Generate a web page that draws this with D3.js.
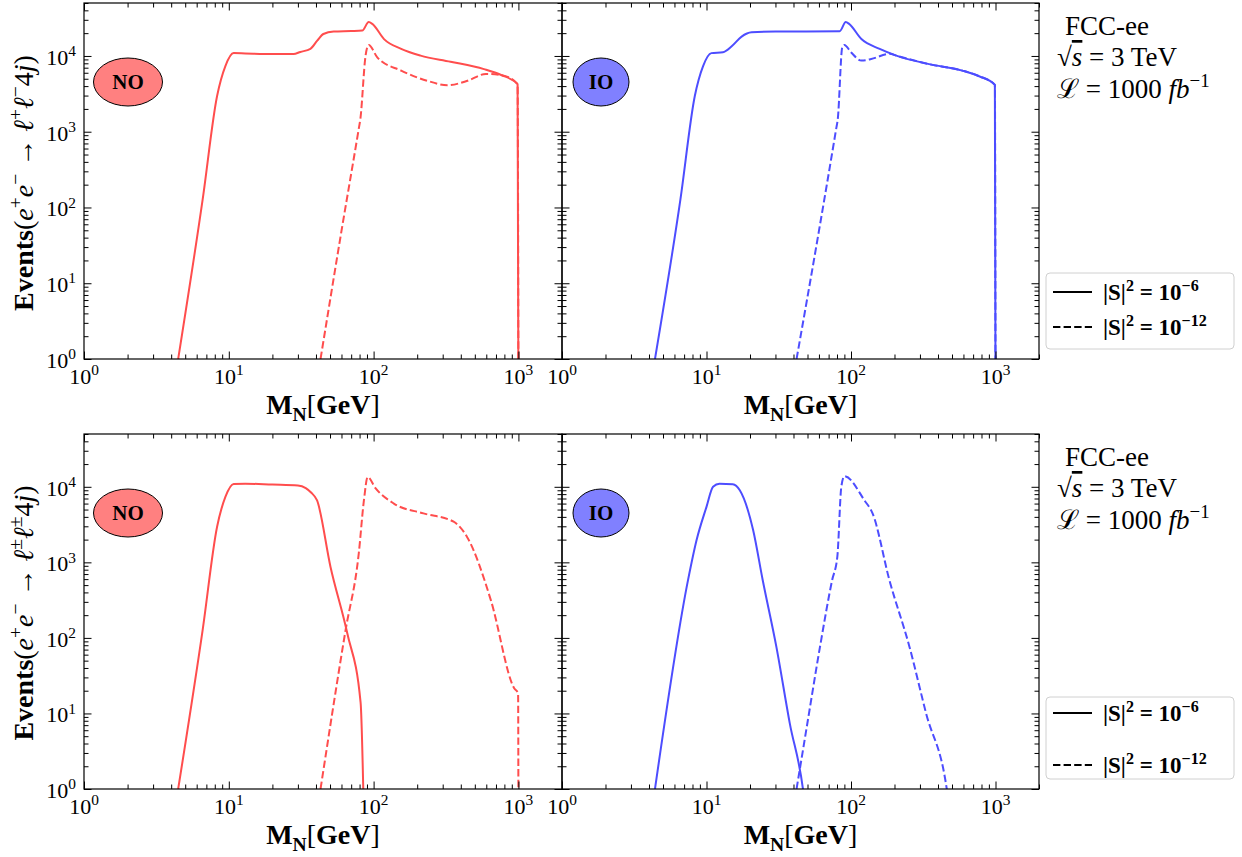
<!DOCTYPE html>
<html>
<head>
<meta charset="utf-8">
<script src="https://cdn.jsdelivr.net/npm/d3@7"></script>
<style>
  body { margin: 0; background: #fff; }
  text { font-family: "Liberation Serif", "DejaVu Serif", serif; fill: #000; }
</style>
</head>
<body>
<svg id="fig" width="1242" height="857"></svg>
<script>
// axis ranges and tick labels
var xDomain = [1, 2000],
    yDomain = [1, 5e4];
var xMajor = [1, 10, 100, 1000],
    xExp = ["0", "1", "2", "3"];
var yMajor = [1, 10, 100, 1000, 10000],
    yExp = ["0", "1", "2", "3", "4"];

// events vs M_N [GeV]
// top row: e+e- -> l+l- 4j
var noOsS6 = [[4.47, 1], [6.6, 128], [8.3, 2960], [9.47, 7350], [10.8, 10900], [13, 10800], [20, 10600],
    [28, 10600], [31.2, 11300], [36.6, 12400], [40.8, 15900], [45, 19500], [53, 21000], [70, 21300],
    [83.5, 21600], [92.5, 28000], [98, 26500], [118, 16700], [155, 12400], [211, 10100], [340, 8400],
    [578, 6700], [760, 5600], [987, 4250], [1001, 0.2]];
var noOsS12 = [[43, 1], [60, 49], [79, 1100], [81, 1470], [88, 10100], [92.5, 14000], [106, 9600], [155, 6400],
    [235, 4700], [323, 4100], [445, 4700], [596, 5800], [760, 5600], [987, 4250], [1001, 0.2]];
var ioOsS6 = [[4.4, 1], [6.6, 128], [8.3, 2960], [9.47, 7350], [10.8, 10900], [13, 11200], [15, 13500],
    [17.5, 18000], [20.5, 20500], [30, 21000], [83.5, 21200], [92, 28000], [97, 26500], [118, 16700],
    [158, 12400], [206, 10100], [347, 7800], [590, 6400], [770, 5400], [990, 4150], [1001, 0.2]];
var ioOsS12 = [[42, 1], [60, 49], [79, 1100], [81, 1470], [87, 13000], [90, 14000], [100, 11200], [118, 8700],
    [138, 9100], [185, 10700], [206, 10100], [347, 7800], [590, 6400], [770, 5400], [990, 4150], [1001, 0.2]];
// bottom row: e+e- -> l(+-)l(+-) 4j
var noSsS6 = [[4.47, 1], [6.6, 128], [8.3, 2960], [9.47, 7350], [10.8, 10900], [13, 11000], [20, 10700],
    [30, 10400], [34, 9600], [37, 8400], [40.7, 6600], [50.4, 870], [65.8, 115], [81.3, 14], [86, 0.3]];
var noSsS12 = [[43, 1], [64, 126], [79, 1320], [85.7, 6600], [91, 13500], [103, 9600], [138, 6000],
    [221, 4450], [357, 3450], [442, 2170], [645, 316], [935, 21.6], [995, 18.5], [1001, 0.2]];
var ioSsS6 = [[4.4, 1], [7.46, 590], [8.53, 1960], [10, 5430], [11.1, 10000], [12.3, 11000], [15.2, 10800],
    [17, 9000], [21, 2700], [24.5, 580], [30.5, 75], [37.7, 7.4], [46.5, 1], [50, 0.3]];
var ioSsS12 = [[42, 1], [49, 6], [61, 76], [74, 580], [80.4, 1180], [85.7, 10000], [90, 13800],
    [124, 6600], [141, 4450], [184.5, 580], [254, 76], [331, 10], [460, 1], [500, 0.3]];

var red = "#ff4d4d", blue = "#4d4dff";

var svg = d3.select("#fig");

function rich(parent, x, y, size, parts, anchor) {
    var t = parent.append("text").attr("x", x).attr("y", y)
        .attr("font-size", size).attr("text-anchor", anchor || "start");
    var off = 0;
    parts.forEach(function(p) {
        var f = p[1] || "";
        var lvl = f.indexOf("^") >= 0 ? -0.4 : f.indexOf("_") >= 0 ? 0.25 : 0;
        var ts = t.append("tspan").text(p[0]);
        var d = (lvl - off) * size;
        if (d) ts.attr("dy", d);
        off = lvl;
        if (lvl) ts.attr("font-size", size * 0.7);
        if (f.indexOf("b") >= 0) ts.attr("font-weight", "bold");
        if (f.indexOf("i") >= 0) ts.attr("font-style", "italic");
        if (f.indexOf("o") >= 0) ts.attr("text-decoration", "overline");
    });
    return t;
}

function minors(majors, max) {
    var out = [];
    majors.forEach(function(m) {
        for (var k = 2; k <= 9; k++) if (k * m <= max) out.push(k * m);
    });
    return out;
}
var xMinor = minors(xMajor, xDomain[1]),
    yMinor = minors(yMajor, yDomain[1]);

var panels = [
    {x0: 84, x1: 562, y0: 3, y1: 359, ylab: true, curves: [noOsS6, noOsS12], color: red, fill: "#ff8080", tag: "NO", rx: 34.5},
    {x0: 562, x1: 1039, y0: 3, y1: 359, ylab: false, curves: [ioOsS6, ioOsS12], color: blue, fill: "#8080ff", tag: "IO", rx: 28},
    {x0: 84, x1: 562, y0: 434, y1: 789, ylab: true, curves: [noSsS6, noSsS12], color: red, fill: "#ff8080", tag: "NO", rx: 34.5},
    {x0: 562, x1: 1039, y0: 434, y1: 789, ylab: false, curves: [ioSsS6, ioSsS12], color: blue, fill: "#8080ff", tag: "IO", rx: 28}
];

function ticks(g, axis, vals, size, tr) {
    g.append("g").attr("transform", tr)
        .call(axis.tickValues(vals).tickSize(-size).tickFormat(function() { return ""; }))
        .call(function(s) { s.select(".domain").remove(); s.selectAll("line").attr("stroke", "#000").attr("stroke-width", 1); });
}

panels.forEach(function(p, i) {
    var x = d3.scaleLog().domain(xDomain).range([p.x0, p.x1]);
    var y = d3.scaleLog().domain(yDomain).range([p.y1, p.y0]);
    var g = svg.append("g");

    g.append("clipPath").attr("id", "clip" + i).append("rect")
        .attr("x", p.x0).attr("y", p.y0).attr("width", p.x1 - p.x0).attr("height", p.y1 - p.y0);

    var line = d3.line()
        .x(function(d) { return x(d[0]); })
        .y(function(d) { return y(d[1]); })
        .curve(d3.curveMonotoneX);

    p.curves.forEach(function(c, j) {
        g.append("path").datum(c)
            .attr("clip-path", "url(#clip" + i + ")")
            .attr("fill", "none")
            .attr("stroke", p.color)
            .attr("stroke-width", 2)
            .attr("stroke-dasharray", j ? "7.4,3.2" : null)
            .attr("d", line);
    });

    // inward ticks on all four sides
    [[xMajor, 7.5], [xMinor, 4.5]].forEach(function(t) {
        ticks(g, d3.axisBottom(x), t[0], t[1], "translate(0," + p.y1 + ")");
        ticks(g, d3.axisTop(x), t[0], t[1], "translate(0," + p.y0 + ")");
    });
    [[yMajor, 7.5], [yMinor, 4.5]].forEach(function(t) {
        ticks(g, d3.axisLeft(y), t[0], t[1], "translate(" + p.x0 + ",0)");
        ticks(g, d3.axisRight(y), t[0], t[1], "translate(" + p.x1 + ",0)");
    });

    g.append("rect").attr("x", p.x0).attr("y", p.y0)
        .attr("width", p.x1 - p.x0).attr("height", p.y1 - p.y0)
        .attr("fill", "none").attr("stroke", "#000").attr("stroke-width", 1.2);

    xMajor.forEach(function(v, k) {
        rich(g, x(v), p.y1 + 25, 22, [["10"], [xExp[k], "^"]], "middle");
    });
    if (p.ylab) {
        yMajor.forEach(function(v, k) {
            rich(g, p.x0 - 8, y(v) + 9, 22, [["10"], [yExp[k], "^"]], "end");
        });
    }

    rich(g, (p.x0 + p.x1) / 2, p.y1 + 55, 28,
        [["M", "b"], ["N", "b_"], ["["], ["GeV", "b"], ["]"]], "middle");

    // NO / IO badge
    var cy = p.y0 + 79;
    g.append("ellipse").attr("cx", p.tag === "NO" ? 128 : 601).attr("cy", cy)
        .attr("rx", p.rx).attr("ry", 24)
        .attr("fill", p.fill).attr("stroke", "#000").attr("stroke-width", 1);
    rich(g, p.tag === "NO" ? 128 : 601, cy + 7, 21, [[p.tag, "b"]], "middle");
});

// y axis titles
var yTitles = [
    [183, [["Events", "b"], ["("], ["e", "i"], ["+", "^"], ["e", "i"], ["\u2212", "^"], [" \u2192 "],
        ["\u2113", "i"], ["+", "^"], ["\u2113", "i"], ["\u2212", "^"], ["4"], ["j", "i"], [")"]]],
    [613, [["Events", "b"], ["("], ["e", "i"], ["+", "^"], ["e", "i"], ["\u2212", "^"], [" \u2192 "],
        ["\u2113", "i"], ["\u00b1", "^"], ["\u2113", "i"], ["\u00b1", "^"], ["4"], ["j", "i"], [")"]]]
];
yTitles.forEach(function(t) {
    var g = svg.append("g").attr("transform", "translate(33," + t[0] + ") rotate(-90)");
    rich(g, 0, 0, 28, t[1], "middle");
});

// run info and legends to the right
[0, 431].forEach(function(dy) {
    rich(svg, 1065, 35 + dy, 27, [["FCC-ee"]]);
    rich(svg, 1057, 66 + dy, 27, [["\u221a"], ["s", "io"], [" = 3 TeV"]]).style("white-space", "pre");
    rich(svg, 1057, 98 + dy, 27, [["\u2112"], [" = 1000 "], ["fb", "i"], ["\u22121", "^"]]).style("white-space", "pre");
});

var legends = [
    {y0: 273, h: 76, rows: [292, 327]},
    {y0: 697, h: 82, rows: [713, 765]}
];
var legLabels = [
    [["|S|", "b"], ["2", "b^"], [" = 10", "b"], ["\u22126", "b^"]],
    [["|S|", "b"], ["2", "b^"], [" = 10", "b"], ["\u221212", "b^"]]
];
legends.forEach(function(l) {
    svg.append("rect").attr("x", 1046).attr("y", l.y0).attr("width", 188).attr("height", l.h)
        .attr("rx", 4).attr("fill", "#fff").attr("stroke", "#d0d0d0");
    l.rows.forEach(function(ry, k) {
        svg.append("line").attr("x1", 1053).attr("x2", 1092).attr("y1", ry).attr("y2", ry)
            .attr("stroke", "#000").attr("stroke-width", 2)
            .attr("stroke-dasharray", k ? "7.4,3.2" : null);
        rich(svg, 1103, ry + 8, 23, legLabels[k]).style("white-space", "pre");
    });
});
</script>
</body>
</html>
